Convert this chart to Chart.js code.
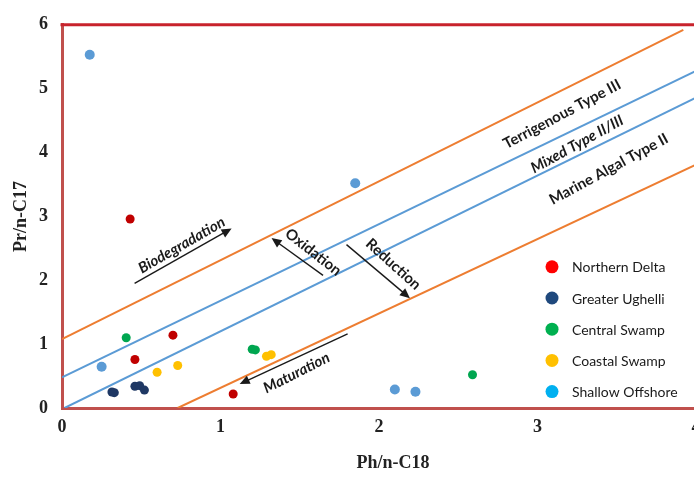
<!DOCTYPE html>
<html>
<head>
<meta charset="utf-8">
<script src="https://cdn.jsdelivr.net/npm/chart.js@4.4.1/dist/chart.umd.min.js"></script>
<style>
  html, body { margin: 0; padding: 0; overflow: hidden; background: #fff; width: 694px; height: 477px; }
</style>
</head>
<body>
<canvas id="chart" width="720" height="477"></canvas>
<script>
// sample groups: [Ph/n-C18, Pr/n-C17]
const seriesNames = ['Northern Delta', 'Greater Ughelli', 'Central Swamp', 'Coastal Swamp', 'Shallow Offshore']
const northernDelta = [[0.43, 2.96], [0.70, 1.14], [0.46, 0.76], [1.08, 0.22]]
const greaterUghelli = [[0.315, 0.25], [0.33, 0.24], [0.46, 0.34], [0.49, 0.35], [0.52, 0.28]]
const centralSwamp = [[0.405, 1.10], [1.20, 0.92], [1.22, 0.91], [2.59, 0.52]]
const coastalSwamp = [[0.60, 0.56], [0.73, 0.665], [1.29, 0.81], [1.32, 0.835]]
const shallowOffshore = [[0.175, 5.53], [1.85, 3.52], [0.25, 0.645], [2.10, 0.29], [2.23, 0.255]]

const pointColors = ['#c00000', '#1f3864', '#00a650', '#ffc000', '#5b9bd5']
const legendColors = ['#ff0000', '#1f497d', '#00b050', '#ffc000', '#00b0f0']

// boundary lines: [x, y] end points
const terrigenousLine = [[0, 1.08], [3.92, 5.92]]
const mixedUpperLine = [[0, 0.48], [4, 5.28]]
const mixedLowerLine = [[0.016, 0], [4, 4.86]]
const marineLine = [[0.73, 0], [4, 3.81]]

const xTicks = [0, 1, 2, 3, 4]
const yTicks = [0, 1, 2, 3, 4, 5, 6]

// labels placed on the plot (data coords, angle in degrees)
const notes = [
  { text: 'Terrigenous Type III', x: 3.155, y: 4.60, angle: -28, italic: false },
  { text: 'Mixed Type II/III', x: 3.25, y: 4.13, angle: -29, italic: true },
  { text: 'Marine Algal Type II', x: 3.45, y: 3.74, angle: -28.5, italic: false },
  { text: 'Biodegradation', x: 0.755, y: 2.55, angle: -30, italic: true },
  { text: 'Oxidation', x: 1.585, y: 2.44, angle: 38, italic: false },
  { text: 'Reduction', x: 2.09, y: 2.25, angle: 42, italic: false },
  { text: 'Maturation', x: 1.48, y: 0.55, angle: -27, italic: true }
]
const arrows = [
  [0.458, 1.95, 1.07, 2.81],
  [1.647, 2.076, 1.322, 2.66],
  [1.795, 2.558, 2.195, 1.72],
  [1.802, 1.162, 1.121, 0.376]
]

const toPoints = arr => arr.map(([x, y]) => ({ x, y }))

const pointSets = [northernDelta, greaterUghelli, centralSwamp, coastalSwamp, shallowOffshore].map((d, i) => ({
  label: seriesNames[i],
  data: toPoints(d),
  backgroundColor: pointColors[i],
  borderWidth: 0,
  pointRadius: i === 4 ? 5 : 4.5,
  order: 1
}))

const lineSet = (d, color) => ({
  label: '',
  data: toPoints(d),
  showLine: true,
  borderColor: color,
  borderWidth: 2,
  pointRadius: 0,
  fill: false,
  order: 2
})

const axisFont = 'bold 18px "Liberation Serif"'

const overlay = {
  id: 'overlay',
  afterDatasetsDraw(chart) {
    const { ctx, chartArea: a, scales: { x, y } } = chart
    ctx.save()
    ctx.strokeStyle = '#c8232c'
    ctx.lineWidth = 3
    ctx.beginPath()
    ctx.moveTo(a.left - 1.5, a.top)
    ctx.lineTo(a.right + 30, a.top)
    ctx.stroke()

    ctx.fillStyle = '#1a1a1a'
    ctx.textAlign = 'center'
    ctx.textBaseline = 'middle'
    notes.forEach(n => {
      ctx.save()
      ctx.translate(x.getPixelForValue(n.x), y.getPixelForValue(n.y))
      ctx.rotate(n.angle * Math.PI / 180)
      ctx.font = (n.italic ? 'italic ' : '') + 'bold 15px Lato'
      ctx.fillText(n.text, 0, 0)
      ctx.restore()
    })

    ctx.strokeStyle = '#1a1a1a'
    ctx.lineWidth = 1.4
    arrows.forEach(([x0, y0, x1, y1]) => {
      const px0 = x.getPixelForValue(x0), py0 = y.getPixelForValue(y0)
      const px1 = x.getPixelForValue(x1), py1 = y.getPixelForValue(y1)
      const ang = Math.atan2(py1 - py0, px1 - px0)
      ctx.beginPath()
      ctx.moveTo(px0, py0)
      ctx.lineTo(px1 - 7 * Math.cos(ang), py1 - 7 * Math.sin(ang))
      ctx.stroke()
      ctx.save()
      ctx.translate(px1, py1)
      ctx.rotate(ang)
      ctx.beginPath()
      ctx.moveTo(0, 0)
      ctx.lineTo(-10, -4.5)
      ctx.lineTo(-10, 4.5)
      ctx.closePath()
      ctx.fill()
      ctx.restore()
    })

    // x axis title, sits a little right of centre in the original
    ctx.fillStyle = '#222'
    ctx.font = axisFont
    ctx.fillText('Ph/n-C18', a.left + 331, 463)

    // legend
    ctx.textAlign = 'left'
    ctx.font = '14px Lato'
    seriesNames.forEach((name, i) => {
      const cy = a.top + 242 + i * 31.2
      ctx.fillStyle = legendColors[i]
      ctx.beginPath()
      ctx.arc(a.left + 490, cy, 6.5, 0, Math.PI * 2)
      ctx.fill()
      ctx.fillStyle = '#1a1a1a'
      ctx.fillText(name, a.left + 510, cy + 1)
    })
    ctx.restore()
  }
}

const tickFont = { family: 'Liberation Serif', size: 18, weight: 'bold' }

new Chart(document.getElementById('chart'), {
  type: 'scatter',
  data: {
    datasets: [
      ...pointSets,
      lineSet(terrigenousLine, '#ed7d31'),
      lineSet(mixedUpperLine, '#5b9bd5'),
      lineSet(mixedLowerLine, '#5b9bd5'),
      lineSet(marineLine, '#ed7d31')
    ]
  },
  options: {
    responsive: false,
    animation: false,
    layout: { padding: { left: 0, right: 24, top: 14, bottom: 0 } },
    plugins: { legend: { display: false }, tooltip: { enabled: false } },
    scales: {
      x: {
        type: 'linear',
        min: 0,
        max: 4,
        afterBuildTicks: s => { s.ticks = xTicks.map(v => ({ value: v })) },
        afterFit: s => { s.height = 69 },
        grid: { display: false, drawTicks: false },
        border: { color: '#c0504d', width: 3 },
        ticks: { font: tickFont, color: '#222', padding: 9 }
      },
      y: {
        type: 'linear',
        min: 0,
        max: 6,
        afterBuildTicks: s => { s.ticks = yTicks.map(v => ({ value: v })) },
        afterFit: s => { s.width = 62 },
        grid: { display: false, drawTicks: false },
        border: { color: '#c0504d', width: 3 },
        ticks: { font: tickFont, color: '#222', padding: 14 },
        title: { display: true, text: 'Pr/n-C17', font: tickFont, color: '#222', padding: { top: 11, bottom: 0 } }
      }
    }
  },
  plugins: [overlay]
})
</script>
</body>
</html>
